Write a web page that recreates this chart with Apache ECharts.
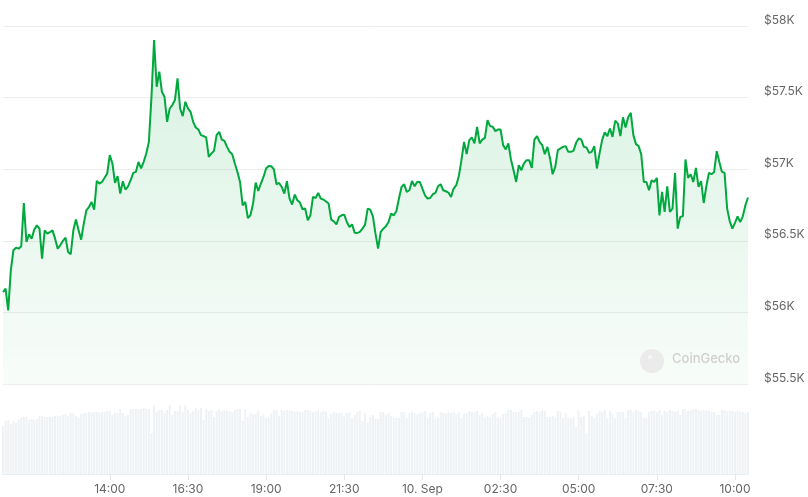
<!DOCTYPE html>
<html>
<head>
<meta charset="utf-8">
<script src="https://cdn.jsdelivr.net/npm/echarts@6/dist/echarts.min.js"></script>
<style>
  html, body { margin: 0; padding: 0; background: #fff; }
  #chart { width: 808px; height: 497px; }
</style>
</head>
<body>
<div id="chart"></div>
<script>
// BTC price, 5-minute steps, 9 Sep 10:35 -> 10 Sep 10:25
var prices = [
  56142, 56166, 56014, 56294, 56434, 56452, 56445, 56462, 56764, 56492,
  56545, 56515, 56578, 56608, 56585, 56375, 56573, 56550, 56560, 56573,
  56515, 56445, 56469, 56500, 56522, 56422, 56406, 56573, 56648, 56575,
  56508, 56620, 56713, 56736, 56771, 56718, 56918, 56900, 56911, 56940,
  56970, 57098, 57040, 56904, 56951, 56830, 56916, 56858, 56880, 56923,
  56974, 56981, 57051, 57005, 57051, 57110, 57191, 57506, 57902, 57576,
  57681, 57541, 57506, 57331, 57424, 57448, 57483, 57634, 57424, 57371,
  57471, 57424, 57401, 57331, 57291, 57277, 57238, 57231, 57222, 57086,
  57110, 57128, 57238, 57261, 57207, 57198, 57156, 57121, 57105, 57040,
  56981, 56911, 56748, 56771,
  56659, 56678, 56760, 56907, 56848, 56900, 56946, 57005, 57023, 57021,
  56998, 56895, 56904, 56876, 56830, 56916, 56795, 56753, 56823, 56783,
  56767, 56720, 56725, 56643, 56678, 56806, 56799, 56834, 56795, 56788,
  56774, 56760, 56648, 56636, 56615, 56667, 56678, 56683, 56631, 56596,
  56615, 56557, 56555, 56562, 56585, 56613, 56725, 56718, 56671, 56550,
  56445,
  56562, 56585, 56601, 56631, 56690, 56678, 56706, 56795, 56876, 56895,
  56841, 56853, 56918, 56881, 56911, 56911, 56865, 56818, 56795, 56799,
  56825, 56834, 56881, 56895, 56853, 56846, 56837, 56806, 56865, 56888,
  56953, 57063, 57191, 57105, 57203, 57222, 57180, 57296, 57180, 57207,
  57219, 57343, 57301, 57296, 57266, 57277, 57277,
  57168, 57138, 57180, 57068, 56993, 56911, 57028, 56993, 57040, 57063,
  57063, 57009, 57207, 57231, 57191, 57168, 57105, 57156, 57075, 56965,
  57016, 57133, 57145, 57156, 57161, 57121, 57121, 57128, 57184, 57215,
  57207, 57156, 57152, 57114, 57121, 57161, 57005, 57110, 57203, 57257,
  57231, 57284, 57226, 57338, 57320, 57231, 57362,
  57292, 57362, 57394, 57238, 57175, 57161, 57105, 56911, 56911, 56853,
  56923, 56911, 56939, 56678, 56841, 56702, 56881, 56702, 56725, 56974,
  56585, 56667, 56671, 57068, 56939, 56965, 56911, 57009, 56876, 56916,
  56764, 56881, 56974, 56965, 56981, 57126, 57051, 56981, 56974, 56725,
  56636, 56585, 56625, 56671, 56631, 56671, 56748, 56802
];

// traded volume per 5 minutes (relative units)
var volumes = [
  48, 53, 54, 50, 53, 51, 54, 56, 57, 57,
  54, 55, 54, 55, 58, 58, 57, 57, 57, 57,
  58, 58, 58, 59, 60, 58, 61, 61, 58, 56,
  60, 61, 61, 62, 61, 62, 62, 61, 62, 62,
  63, 63, 59, 61, 61, 65, 61, 58, 59, 65,
  65, 65, 65, 65, 66, 65, 65, 41,
  69, 62, 64, 64, 61, 64, 69, 59, 63, 63,
  69, 62, 69, 64, 61, 63, 66, 64, 66, 54,
  65, 63, 64, 57, 63, 65, 63, 64, 63, 63,
  62, 64, 65, 65, 53, 65, 57, 61, 60, 60,
  63, 58, 60, 56, 57, 61, 64, 64, 58, 64,
  63, 64, 63, 63, 62, 63, 62, 62, 64, 64,
  63, 62, 63, 64, 62, 63, 62, 56, 60, 62,
  61, 61, 61, 58, 61, 62, 56, 59, 62, 63,
  53, 61, 51, 57, 59, 55, 55, 62, 62, 59,
  61, 58, 56, 56, 56, 62,
  62, 56, 61, 62, 61, 59, 61, 62, 63, 56,
  61, 62, 55, 56, 62, 61, 60, 62, 61, 62,
  60, 62, 56, 60, 61, 63, 62, 62, 63, 59,
  61, 57, 58, 57, 60, 62, 56, 56, 60, 61,
  64, 64, 62, 62, 62, 64, 57, 57, 56, 59,
  62, 63, 62, 64, 63, 57, 57, 58, 57, 63,
  62, 56, 61, 56, 56, 57, 47, 63, 57, 58,
  41, 63, 58, 56, 60, 63, 62, 64, 56, 63,
  60, 56, 62, 62, 62, 56, 64, 64, 62, 64,
  63, 62, 56, 56, 62, 63, 63, 62, 64, 59,
  63, 62, 64, 63, 62, 63, 59, 65, 65, 63,
  64, 65, 65, 64, 63, 64, 64, 63, 62, 62,
  59, 59, 64, 64, 63, 63, 63, 62, 63, 62,
  62, 61, 62
];

var tickLabels = ['14:00', '16:30', '19:00', '21:30', '00:00', '02:30', '05:00', '07:30', '10:00'];
var dayLabel = { '00:00': '10. Sep' };

var startMinute = 10 * 60 + 35;
function pad(n) { return n < 10 ? '0' + n : '' + n; }
var times = prices.map(function (p, i) {
  var m = (startMinute + i * 5) % 1440;
  return pad(Math.floor(m / 60)) + ':' + pad(m % 60);
});

function showTick(idx, val) {
  return tickLabels.indexOf(val) !== -1;
}

var chartDom = document.getElementById('chart');
var myChart = echarts.init(chartDom);
var green = '#00a83e';
var option;

option = {
  animation: false,
  textStyle: { fontFamily: 'Inter, "Noto Sans", sans-serif' },
  grid: [
    { left: 3, right: 60, top: 26, bottom: 113 },
    { left: 3, right: 60, top: 400, bottom: 23 }
  ],
  xAxis: [
    {
      type: 'category',
      gridIndex: 0,
      data: times,
      boundaryGap: false,
      show: false
    },
    {
      type: 'category',
      gridIndex: 1,
      data: times,
      boundaryGap: false,
      axisLine: { lineStyle: { color: '#e9ecf0' } },
      axisTick: { interval: showTick, length: 6, lineStyle: { color: '#e3e6eb' } },
      axisLabel: {
        interval: showTick,
        margin: 9,
        color: '#666',
        fontSize: 12,
        formatter: function (v) { return dayLabel[v] || v; }
      },
      splitLine: { show: false }
    }
  ],
  yAxis: [
    {
      type: 'value',
      gridIndex: 0,
      position: 'right',
      min: 55500,
      max: 58000,
      interval: 500,
      axisLine: { show: false },
      axisTick: { show: false },
      splitLine: { lineStyle: { color: '#ededed', width: 1 } },
      axisLabel: {
        align: 'left',
        verticalAlign: 'bottom',
        margin: 16,
        color: '#666',
        fontSize: 12,
        formatter: function (v) { return '$' + (v / 1000) + 'K'; }
      }
    },
    {
      type: 'value',
      gridIndex: 1,
      min: 0,
      max: 74,
      show: false
    }
  ],
  graphic: [
    {
      type: 'circle',
      shape: { cx: 652, cy: 361, r: 12 },
      style: { fill: '#ebebeb' },
      z: 10
    },
    {
      type: 'circle',
      shape: { cx: 650, cy: 357, r: 2 },
      style: { fill: '#f7f7f7' },
      z: 11
    },
    {
      type: 'text',
      left: 672,
      top: 353,
      style: {
        text: 'CoinGecko',
        fill: '#cfcfcf',
        font: '500 13px Inter, "Noto Sans", sans-serif'
      },
      z: 10
    }
  ],
  series: [
    {
      name: 'Price',
      type: 'line',
      xAxisIndex: 0,
      yAxisIndex: 0,
      data: prices,
      showSymbol: false,
      symbol: 'none',
      lineStyle: { color: green, width: 2 },
      itemStyle: { color: green },
      areaStyle: {
        color: new echarts.graphic.LinearGradient(0, 0, 0, 1, [
          { offset: 0, color: 'rgba(0,168,62,0.22)' },
          { offset: 1, color: 'rgba(0,168,62,0.04)' }
        ])
      },
      emphasis: { disabled: true },
      z: 3
    },
    {
      name: 'Volume',
      type: 'bar',
      xAxisIndex: 1,
      yAxisIndex: 1,
      data: volumes,
      barWidth: 2,
      clip: false,
      itemStyle: { color: '#eff2f5' },
      emphasis: { disabled: true }
    }
  ]
};

option && myChart.setOption(option);
</script>
</body>
</html>
